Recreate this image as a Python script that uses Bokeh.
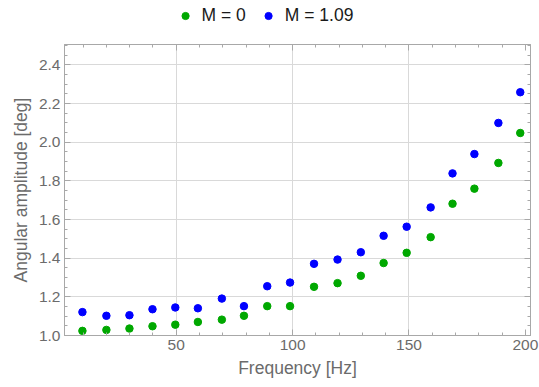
from bokeh.plotting import figure
from bokeh.layouts import column
from bokeh.models import Legend, LegendItem, LinearAxis, Range1d, FixedTicker, CustomJSTickFormatter
from bokeh.embed import file_html
from bokeh.resources import INLINE

freq = [9.7, 20.0, 29.9, 39.8, 49.6, 59.3, 69.6, 79.1, 89.1, 98.9,
        109.2, 119.3, 129.3, 139.1, 149.0, 159.3, 168.7, 178.1, 188.4, 197.8]
amp_m0 = [1.024, 1.029, 1.036, 1.048, 1.056, 1.070, 1.082, 1.102, 1.152, 1.152,
          1.252, 1.271, 1.309, 1.375, 1.428, 1.509, 1.682, 1.760, 1.893, 2.048]
amp_m109 = [1.121, 1.102, 1.105, 1.136, 1.145, 1.141, 1.191, 1.152, 1.255, 1.274,
            1.371, 1.393, 1.431, 1.516, 1.563, 1.663, 1.839, 1.939, 2.100, 2.259]
labels = ["M = 0", "M = 1.09"]
colors = ["#00a800", "#0000ff"]
x_ticks = [50, 100, 150, 200]
y_ticks = [1.0, 1.2, 1.4, 1.6, 1.8, 2.0, 2.2, 2.4]

FONT = "Liberation Sans"
GRAY = "#6b6b6b"
FRAME = "#a8a8a8"

# ---- legend strip ----
strip = figure(width=474, height=30, output_backend="svg", toolbar_location=None,
               x_range=Range1d(0, 1), y_range=Range1d(10, 11),
               x_axis_type=None, y_axis_type=None,
               min_border_left=64, min_border_right=9, min_border_top=0, min_border_bottom=0)
strip.outline_line_color = None
strip.grid.visible = False
s0 = strip.scatter(freq, amp_m0, size=7.5, color=colors[0])
s1 = strip.scatter(freq, amp_m109, size=7.5, color=colors[1])
legend = Legend(items=[LegendItem(label=labels[0], renderers=[s0]),
                       LegendItem(label=labels[1], renderers=[s1])],
                orientation="horizontal", location="center",
                label_text_font=FONT, label_text_font_size="17.5px", label_text_color="#1a1a1a",
                glyph_width=18, glyph_height=18, label_standoff=8, spacing=13,
                border_line_color=None, background_fill_alpha=0,
                padding=0, margin=0)
strip.add_layout(legend, "center")

# ---- main plot ----
p = figure(width=539, height=357, output_backend="svg", toolbar_location=None,
           x_range=Range1d(2.0, 202.2), y_range=Range1d(1.0, 2.506),
           x_axis_label="Frequency [Hz]", y_axis_label="Angular amplitude [deg]",
           min_border_left=64, min_border_right=9, min_border_top=14, min_border_bottom=52)

p.scatter(freq, amp_m0, size=7.5, color=colors[0])
p.scatter(freq, amp_m109, size=7.5, color=colors[1])

xt = FixedTicker(ticks=x_ticks, minor_ticks=list(range(0, 210, 10)))
yt = FixedTicker(ticks=y_ticks, minor_ticks=[round(1.0 + 0.05 * i, 2) for i in range(31)])

p.xaxis.ticker = xt
p.yaxis.ticker = yt
p.yaxis.formatter = CustomJSTickFormatter(code="return tick.toFixed(1);")

for ax in p.xaxis + p.yaxis:
    ax.axis_line_color = FRAME
    ax.major_tick_line_color = FRAME
    ax.minor_tick_line_color = FRAME
    ax.major_tick_in = 6
    ax.major_tick_out = 0
    ax.minor_tick_in = 3
    ax.minor_tick_out = 0
    ax.major_label_text_font = FONT
    ax.major_label_text_font_size = "15.5px"
    ax.major_label_text_color = GRAY
    ax.axis_label_text_font = FONT
    ax.axis_label_text_font_size = "17.5px"
    ax.axis_label_text_font_style = "normal"
    ax.axis_label_text_color = GRAY
    ax.major_label_standoff = 4
    ax.axis_label_standoff = 5

# top and right frame ticks (no labels)
blank = CustomJSTickFormatter(code="return '';")
top = LinearAxis(ticker=xt, formatter=blank, major_label_standoff=0)
right = LinearAxis(ticker=yt, formatter=blank, major_label_standoff=0)
for ax in (top, right):
    ax.axis_line_color = FRAME
    ax.major_tick_line_color = FRAME
    ax.minor_tick_line_color = FRAME
    ax.major_tick_in = 6
    ax.major_tick_out = 0
    ax.minor_tick_in = 3
    ax.minor_tick_out = 0
p.add_layout(top, "above")
p.add_layout(right, "right")

p.xgrid.ticker = FixedTicker(ticks=[50, 100, 150])
p.ygrid.ticker = FixedTicker(ticks=y_ticks[1:])
p.grid.grid_line_color = "#d9d9d9"
p.grid.grid_line_width = 1
p.outline_line_color = FRAME

layout = column(strip, p, spacing=0)
open("out.html", "w").write(file_html(layout, INLINE))
